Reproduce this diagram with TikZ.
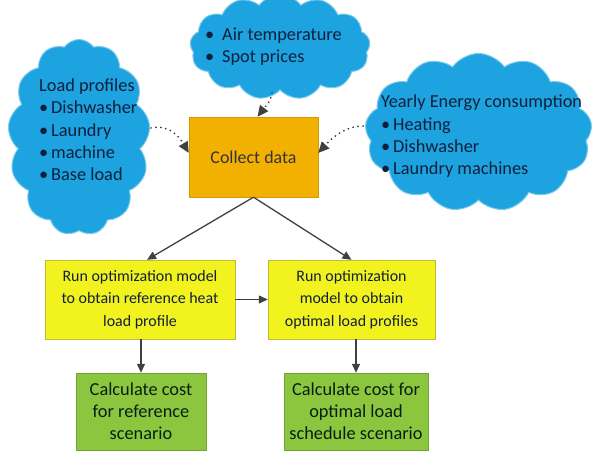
\documentclass[tikz,border=0pt]{standalone}
\usepackage{fontspec}
\setmainfont{Carlito}
\usepackage{tikz}
\usetikzlibrary{arrows.meta, positioning, shapes.symbols}
\definecolor{cblue}{HTML}{1CA3E0}
\definecolor{cbluebd}{HTML}{7CC9EE}
\definecolor{ctext}{HTML}{10203C}
\definecolor{corange}{HTML}{F2B100}
\definecolor{corangebd}{HTML}{D49A00}
\definecolor{cyellow}{HTML}{F2F21E}
\definecolor{cyellowbd}{HTML}{BDBD3A}
\definecolor{cgreen}{HTML}{8CC63F}
\definecolor{cgreenbd}{HTML}{6FA437}
\definecolor{carrow}{HTML}{404040}
\newcommand{\bul}{\makebox[12bp][l]{\textbullet}}
\newcommand{\wbul}{\makebox[17bp][l]{\textbullet}}
\tikzset{
  cloudshape/.style={cloud, cloud puffs=13, cloud puff arc=110, cloud ignores aspect,
                     fill=cblue, draw=cbluebd, line width=1pt, inner sep=0pt},
  cloudtext/.style={text=ctext, align=left, inner sep=0pt,
                    font=\fontsize{18.4}{22.5}\selectfont},
  collectbox/.style={draw=corangebd, fill=corange, text=ctext!80!brown,
                     minimum width=129bp, minimum height=80bp, align=center,
                     font=\fontsize{18}{22}\selectfont},
  runbox/.style={draw=cyellowbd, fill=cyellow, text=ctext,
                 minimum height=79bp, align=center, inner sep=2pt,
                 font=\fontsize{16}{22.5}\selectfont},
  costbox/.style={draw=cgreenbd, fill=cgreen, text=ctext!80!green!40!black,
                  minimum height=77bp, align=center, inner sep=2pt,
                  font=\fontsize{18.4}{22}\selectfont},
  arr/.style={-{Triangle[length=9bp,width=8bp]}, carrow, line width=1.3pt},
  darr/.style={-{Triangle[length=11bp,width=10bp]}, carrow, line width=2pt,
               line cap=round, dash pattern=on 0pt off 5pt},
}

\begin{document}
\begin{tikzpicture}[x=1bp, y=-1bp]

  \useasboundingbox[fill=white] (0,0) rectangle (598,452);

  %% ── Data clouds ──
  \node[cloudshape, minimum width=180bp, minimum height=105bp] (weather) at (280,47) {};
  \node[cloudtext, anchor=base west] (weathertxt) at (205,63)
    {\wbul Air temperature\\ \wbul Spot prices};

  \node[cloudshape, minimum width=142bp, minimum height=196bp] (profiles) at (79,137.5) {};
  \node[cloudtext, anchor=base west] (profilestxt) at (39,181)
    {Load profiles\\ \bul Dishwasher\\ \bul Laundry\\ \bul machine\\ \bul Base load};

  \node[cloudshape, minimum width=227bp, minimum height=158bp] (energy) at (478.5,132.5) {};
  \node[cloudtext, anchor=base west] (energytxt) at (381,175)
    {Yearly Energy consumption\\ \bul Heating\\ \bul Dishwasher\\ \bul Laundry machines};

  %% ── Process boxes ──
  \node[collectbox] (collect) at (253.5,157) {Collect data};

  \node[runbox, minimum width=190bp] (runref) at (140,299.5)
    {Run optimization model\\ to obtain reference heat\\ load profile};
  \node[runbox, minimum width=167bp] (runopt) at (351.5,299.5)
    {Run optimization\\ model to obtain\\ optimal load profiles};

  \node[costbox, minimum width=130bp] (costref) at (141,411.5)
    {Calculate cost\\ for reference\\ scenario};
  \node[costbox, minimum width=144bp] (costopt) at (356,411.5)
    {Calculate cost for\\ optimal load\\ schedule scenario};

  %% ── Dotted inputs ──
  \draw[darr] (151,128) .. controls (170,124) and (180,138) .. ([yshift=4bp]collect.west);
  \draw[darr] (272,93) .. controls (271,101) and (265,107) .. ([xshift=4bp]collect.north);
  \draw[darr] (363,126) .. controls (345,126) and (332,138) .. ([yshift=4bp]collect.east);

  %% ── Flow ──
  \draw[arr] (collect.south) -- ([xshift=7bp]runref.north);
  \draw[arr] (collect.south) -- (runopt.north);
  \draw[arr] (runref.east) -- (runopt.west);
  \draw[arr] (costref.north |- runref.south) -- (costref.north);
  \draw[arr] (costopt.north |- runopt.south) -- (costopt.north);

\end{tikzpicture}
\end{document}
